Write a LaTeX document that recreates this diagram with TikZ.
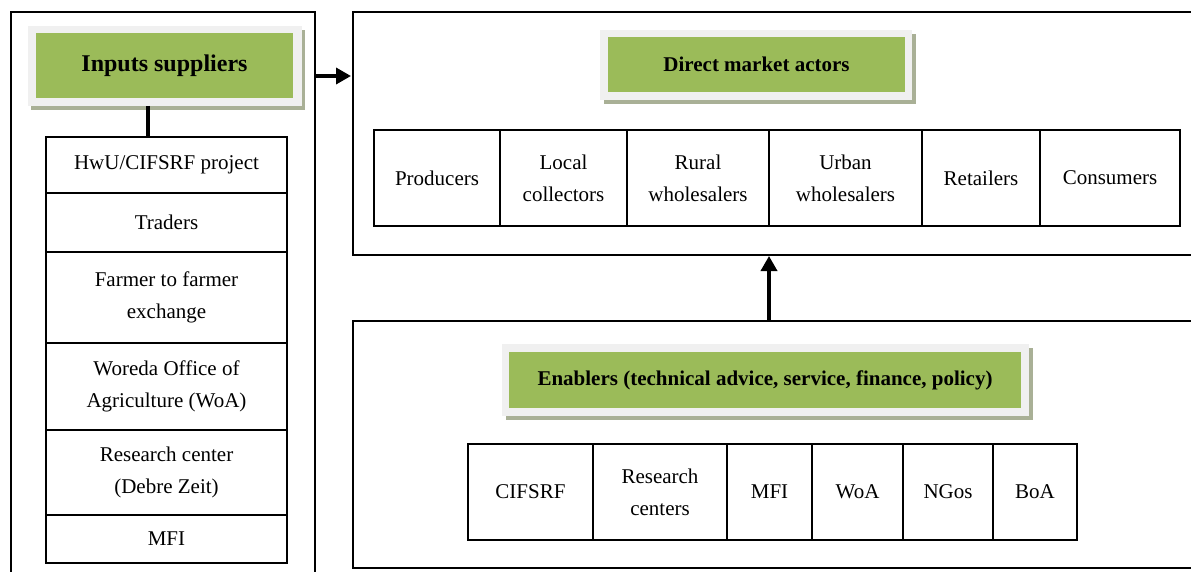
\documentclass[tikz,border=0pt]{standalone}
\usepackage{fontspec}
\setmainfont{Liberation Serif}
\usetikzlibrary{arrows.meta}
\definecolor{hgreen}{HTML}{9BBB59}
\definecolor{hframe}{HTML}{F0F0F0}
\definecolor{hshadow}{HTML}{A9B096}
\tikzset{
  cell/.style={draw, line width=1.4pt, inner sep=0pt, align=center,
    font=\fontsize{21}{32}\selectfont},
  box/.style={line width=1.5pt},
  hgr/.style={fill=hgreen, inner sep=0pt, align=center, font=\bfseries\fontsize{21}{26}\selectfont},
  hfr/.style={fill=hframe, inner sep=0pt},
  hsh/.style={fill=hshadow, inner sep=0pt},
  conn/.style={line width=3.2pt},
  bigarrow/.style={line width=3.5pt, -{Triangle[length=15pt,width=16pt]}}
}
\begin{document}
\begin{tikzpicture}[x=1pt,y=-1pt]
\useasboundingbox (0,0) rectangle (1191,572);
% outer boxes
\draw[box] (11,572) -- (11,12) -- (315,12) -- (315,572);
\draw[box] (1191,12) -- (353,12) -- (353,255) -- (1191,255);
\draw[box] (1191,321) -- (353,321) -- (353,568) -- (1191,568);

% Inputs suppliers header
\node[hsh, minimum width=274pt, minimum height=80pt] (insh) at (168,70) {};
\node[hfr, minimum width=274pt, minimum height=80pt] (infr) at (165,66) {};
\node[hgr, minimum width=257pt, minimum height=65pt, font=\bfseries\fontsize{24}{28}\selectfont] (inhd) at (164.5,65.5) {Inputs suppliers};

% Left list
\node[cell, minimum width=241pt, minimum height=56pt] (l1) at (166.5,165) {HwU/CIFSRF project};
\node[cell, minimum width=241pt, minimum height=59pt] (l2) at (166.5,222.5) {Traders};
\node[cell, minimum width=241pt, minimum height=91pt] (l3) at (166.5,297.5) {Farmer to farmer\\exchange};
\node[cell, minimum width=241pt, minimum height=87pt] (l4) at (166.5,386.5) {Woreda Office of\\Agriculture (WoA)};
\node[cell, minimum width=241pt, minimum height=85pt] (l5) at (166.5,472.5) {Research center\\(Debre Zeit)};
\node[cell, minimum width=241pt, minimum height=48pt] (l6) at (166.5,539) {MFI};
\coordinate (c1) at (148,106);
\coordinate (c2) at (148,137);
\draw[conn] (c1) -- (c2);

% Direct market actors header
\node[hsh, minimum width=312pt, minimum height=70pt] (dsh) at (760,69) {};
\node[hfr, minimum width=312pt, minimum height=70pt] (dfr) at (756,65) {};
\node[hgr, minimum width=297pt, minimum height=55pt] (dhd) at (756.5,64.5) {Direct market actors};

% Top table
\node[cell, minimum width=126pt, minimum height=96pt] (t1) at (437,178) {Producers};
\node[cell, minimum width=127pt, minimum height=96pt] (t2) at (563.5,178) {Local\\collectors};
\node[cell, minimum width=142pt, minimum height=96pt] (t3) at (698,178) {Rural\\wholesalers};
\node[cell, minimum width=153pt, minimum height=96pt] (t4) at (845.5,178) {Urban\\wholesalers};
\node[cell, minimum width=118pt, minimum height=96pt] (t5) at (981,178) {Retailers};
\node[cell, minimum width=140pt, minimum height=96pt] (t6) at (1110,178) {Consumers};

% Enablers header
\node[hsh, minimum width=527pt, minimum height=72pt] (esh) at (769,384) {};
\node[hfr, minimum width=527pt, minimum height=72pt] (efr) at (765,380) {};
\node[hgr, minimum width=512pt, minimum height=56pt] (ehd) at (765,380) {Enablers (technical advice, service, finance, policy)};

% Bottom table
\node[cell, minimum width=125pt, minimum height=96pt] (b1) at (530.5,492) {CIFSRF};
\node[cell, minimum width=134pt, minimum height=96pt] (b2) at (660,492) {Research\\centers};
\node[cell, minimum width=85pt, minimum height=96pt] (b3) at (769.5,492) {MFI};
\node[cell, minimum width=91pt, minimum height=96pt] (b4) at (857.5,492) {WoA};
\node[cell, minimum width=90pt, minimum height=96pt] (b5) at (948,492) {NGos};
\node[cell, minimum width=84pt, minimum height=96pt] (b6) at (1035,492) {BoA};

% arrows
\coordinate (a1) at (316,76);
\coordinate (a2) at (351,76);
\draw[bigarrow] (a1) -- (a2);
\coordinate (v1) at (769,321);
\coordinate (v2) at (769,256);
\draw[bigarrow] (v1) -- (v2);
\end{tikzpicture}
\end{document}
